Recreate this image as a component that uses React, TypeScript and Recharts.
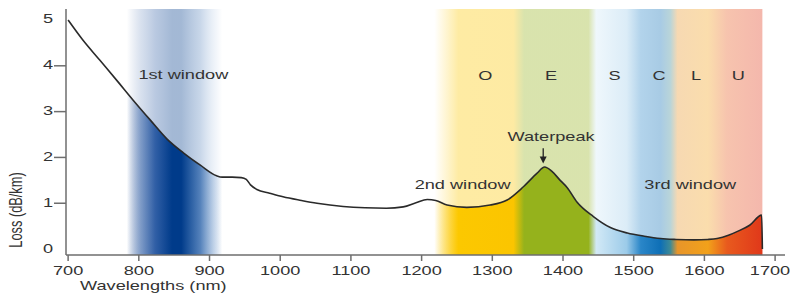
import { ComposedChart, Area, XAxis, YAxis, ReferenceArea, ReferenceDot, ReferenceLine } from 'recharts';

// attenuation curve of a single-mode fibre
const wavelengths = [700, 720, 745, 770, 792, 816, 840, 863, 887, 910, 918, 932, 945, 952, 958, 967, 985, 1004, 1030, 1052, 1089, 1120, 1150, 1174, 1192, 1208, 1220, 1236, 1264, 1297, 1321, 1344, 1363, 1374, 1384, 1396, 1406, 1420, 1443, 1467, 1491, 1515, 1538, 1560, 1585, 1605, 1618, 1634, 1646, 1664, 1681, 1682];
const loss = [5.0, 4.58, 4.12, 3.66, 3.25, 2.82, 2.4, 2.1, 1.83, 1.6, 1.57, 1.57, 1.56, 1.52, 1.4, 1.3, 1.22, 1.14, 1.06, 1.0, 0.93, 0.9, 0.89, 0.92, 1.01, 1.08, 1.06, 0.96, 0.91, 0.96, 1.07, 1.36, 1.65, 1.79, 1.7, 1.5, 1.34, 1.02, 0.71, 0.47, 0.35, 0.28, 0.23, 0.21, 0.2, 0.21, 0.23, 0.3, 0.38, 0.52, 0.74, 0];

const xTicks = [700, 800, 900, 1000, 1100, 1200, 1300, 1400, 1500, 1600, 1700];
const yTicks = [0, 1, 2, 3, 4, 5];

const bandNames = ['O', 'E', 'S', 'C', 'L', 'U'];
const bandCenters = [1290, 1383, 1473, 1536, 1588, 1648];

const windowNames = ['1st window', '2nd window', '3rd window'];
const windowX = [863, 1258, 1580];
const windowY = [3.8, 1.4, 1.4];

const peakName = 'Waterpeak';
const peakAt = 1372;

const data = wavelengths.map((w, i) => ({ w, loss: loss[i] }));

const W0 = 700;
const W1 = 1682;
// colour of the spectrum under the curve (same gradient, faded, is used above it)
const spectrum = [
  { w: 700, c: '#0a3c8c', o: 0 },
  { w: 783, c: '#0a3c8c', o: 0 },
  { w: 803, c: '#2455a0', o: 0.5 },
  { w: 823, c: '#0f4597', o: 0.8 },
  { w: 847, c: '#003b8a', o: 1 },
  { w: 860, c: '#003b8a', o: 1 },
  { w: 887, c: '#1f5aa5', o: 0.68 },
  { w: 905, c: '#4a7dbd', o: 0.3 },
  { w: 918, c: '#4a7dbd', o: 0 },
  { w: 1218, c: '#fcc800', o: 0 },
  { w: 1252, c: '#fcc800', o: 1 },
  { w: 1330, c: '#fbc500', o: 1 },
  { w: 1345, c: '#95b21c', o: 1 },
  { w: 1436, c: '#95b21c', o: 1 },
  { w: 1447, c: '#d2e9f6', o: 1 },
  { w: 1490, c: '#9ccbe9', o: 1 },
  { w: 1510, c: '#2a86c8', o: 1 },
  { w: 1538, c: '#0e6fb6', o: 1 },
  { w: 1552, c: '#3f8a95', o: 1 },
  { w: 1562, c: '#e8952a', o: 1 },
  { w: 1605, c: '#f2a11a', o: 1 },
  { w: 1632, c: '#e85a1e', o: 1 },
  { w: 1682, c: '#e0381a', o: 1 },
];

const ink = '#333';
const axisColor = '#6e6e6e';
const font = '"Liberation Sans", Arial, sans-serif';

function StretchText({ x, y, anchor = 'middle', children }: any) {
  return (
    <text
      transform={`translate(${x},${y}) scale(1.42,1)`}
      textAnchor={anchor}
      dominantBaseline="central"
      fontFamily={font}
      fontSize={12.8}
      fill={ink}
    >
      {children}
    </text>
  );
}

// keep the last label inside the picture
const XTick = ({ x, y, payload }: any) => (
  <StretchText x={Math.min(x, 770)} y={y + 8}>{payload.value}</StretchText>
);

const YTick = ({ x, y, payload }: any) => (
  <g>
    {payload.value > 0 && payload.value < 5 && (
      <line x1={x + 2} x2={x + 14} y1={y} y2={y} stroke={axisColor} strokeWidth={1.5} />
    )}
    <StretchText x={x + 1} y={y - 1} anchor="end">{payload.value}</StretchText>
  </g>
);

const textAt = (label: string) => (p: any) => <StretchText x={p.cx} y={p.cy}>{label}</StretchText>;

const arrow = (p: any) => (
  <g>
    <line x1={p.x1} y1={p.y1} x2={p.x2} y2={p.y2 - 5} stroke="#222" strokeWidth={1.3} />
    <polygon points={`${p.x2 - 3.5},${p.y2 - 7} ${p.x2 + 3.5},${p.y2 - 7} ${p.x2},${p.y2}`} fill="#222" />
  </g>
);

export default function App() {
  return (
    <div style={{ position: 'absolute', left: 0, top: 0, background: '#fff' }}>
      <ComposedChart width={793} height={298} data={data} margin={{ top: 9, right: 8, bottom: 0, left: 0 }}>
        <defs>
          <linearGradient id="spec" x1="0" y1="0" x2="1" y2="0">
            {spectrum.map((s) => (
              <stop key={s.w} offset={(s.w - W0) / (W1 - W0)} stopColor={s.c} stopOpacity={s.o} />
            ))}
          </linearGradient>
        </defs>
        <XAxis
          dataKey="w"
          type="number"
          domain={[697, 1714]}
          ticks={xTicks}
          height={43}
          tick={<XTick />}
          tickSize={6}
          axisLine={{ stroke: axisColor, strokeWidth: 1.5 }}
          tickLine={{ stroke: axisColor, strokeWidth: 1.5 }}
          label={{ content: () => <StretchText x={80} y={286} anchor="start">Wavelengths (nm)</StretchText> }}
        />
        <YAxis
          type="number"
          domain={[-0.13, 5.24]}
          ticks={yTicks}
          width={66}
          tick={<YTick />}
          tickSize={12}
          tickLine={false}
          axisLine={{ stroke: axisColor, strokeWidth: 1.5 }}
          label={{
            content: () => (
              <text
                transform="translate(16,210) scale(1.42,1) rotate(-90)"
                textAnchor="middle"
                dominantBaseline="central"
                fontFamily={font}
                fontSize={12.8}
                fill={ink}
              >
                Loss (dB/km)
              </text>
            ),
          }}
        />
        <ReferenceArea x1={W0} x2={W1} y1={-0.13} y2={5.24} fill="url(#spec)" fillOpacity={0.36} stroke="none" />
        <Area
          dataKey="loss"
          type="monotone"
          baseValue="dataMin"
          stroke="#2a2a2a"
          strokeWidth={1.6}
          fill="url(#spec)"
          fillOpacity={1}
          isAnimationActive={false}
          dot={false}
          activeDot={false}
        />
        {bandNames.map((b, i) => (
          <ReferenceDot key={b} x={bandCenters[i]} y={3.78} r={0} shape={textAt(b)} />
        ))}
        {windowNames.map((n, i) => (
          <ReferenceDot key={n} x={windowX[i]} y={windowY[i]} r={0} shape={textAt(n)} />
        ))}
        <ReferenceDot x={1383} y={2.45} r={0} shape={textAt(peakName)} />
        <ReferenceLine segment={[{ x: peakAt, y: 2.2 }, { x: peakAt, y: 1.87 }]} shape={arrow} />
      </ComposedChart>
    </div>
  );
}
